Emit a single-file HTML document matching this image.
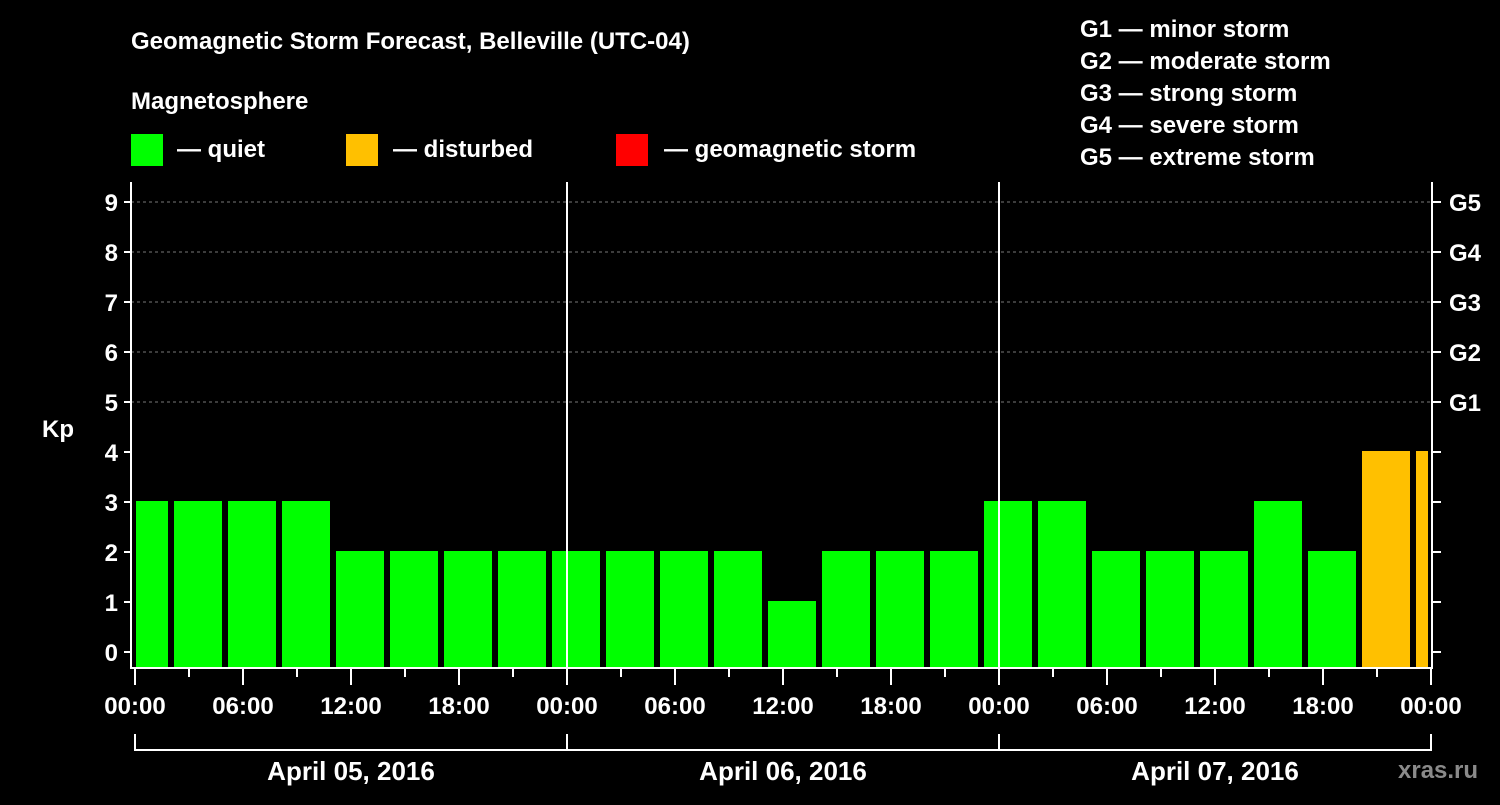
<!DOCTYPE html>
<html><head><meta charset="utf-8"><style>
body{margin:0;background:#000;width:1500px;height:800px;overflow:hidden;font-family:"Liberation Sans",Arial,sans-serif;}
svg text{font-family:"Liberation Sans",Arial,sans-serif;font-weight:bold;fill:#fff;}
</style></head><body>
<svg id="c" width="1500" height="800">
<text x="131" y="49" font-size="24">Geomagnetic Storm Forecast, Belleville (UTC-04)</text>
<text x="131" y="109" font-size="24">Magnetosphere</text>
<g><rect x="131" y="134" width="32" height="32" fill="#00ff00"/><text x="177" y="157" font-size="24">— quiet</text></g>
<g><rect x="346" y="134" width="32" height="32" fill="#ffc000"/><text x="393" y="157" font-size="24">— disturbed</text></g>
<g><rect x="616" y="134" width="32" height="32" fill="#ff0000"/><text x="664" y="157" font-size="24">— geomagnetic storm</text></g>
<g font-size="24">
<text x="1080" y="37">G1 — minor storm</text>
<text x="1080" y="69">G2 — moderate storm</text>
<text x="1080" y="101">G3 — strong storm</text>
<text x="1080" y="133">G4 — severe storm</text>
<text x="1080" y="165">G5 — extreme storm</text>
</g>
<text x="42" y="437" font-size="24">Kp</text>
<text x="1398" y="778" font-size="24" fill="#888" style="fill:#8a8a8a">xras.ru</text>
<g id="plot"></g>
</svg>
<script>
const kpValues=[3,3,3,3,2,2,2,2,2,2,2,2,1,2,2,2,3,3,2,2,2,3,2,4,4];
const kpTicks=[0,1,2,3,4,5,6,7,8,9];
const gLabels=["G1","G2","G3","G4","G5"];
const timeLabels=["00:00","06:00","12:00","18:00","00:00","06:00","12:00","18:00","00:00","06:00","12:00","18:00","00:00"];
const dateLabels=["April 05, 2016","April 06, 2016","April 07, 2016"];
const NS="http://www.w3.org/2000/svg";
const g=document.getElementById('plot');
const X0=135,PX_H=18,L=131,R=1432,TOP=182,BOT=668;
const y=v=>652-50*v;
const x=h=>X0+PX_H*h;
function mk(t,a){const e=document.createElementNS(NS,t);for(const k in a)e.setAttribute(k,a[k]);g.appendChild(e);return e;}
// grid
for(let v=5;v<=9;v++){const e=mk('line',{x1:L,x2:R,y1:y(v),y2:y(v),stroke:'#777','stroke-dasharray':'3,3','stroke-width':1});

}
// bars
kpValues.forEach((v,k)=>{
 let l=x(3*k)-15,r=l+48;l=Math.max(l,136);r=Math.min(r,1428);
 const col=v>=5?'#ff0000':(v>=4?'#ffc000':'#00ff00');
 const e=mk('rect',{x:l,y:y(v)-1,width:r-l,height:BOT-1-(y(v)-1),fill:col});
 
 
});
// day separators
[1,2].forEach(d=>{const e=mk('line',{x1:x(24*d),x2:x(24*d),y1:TOP,y2:BOT,stroke:'#fff','stroke-width':2});

});
// axes
mk('line',{x1:L,x2:L,y1:TOP,y2:BOT+1,stroke:'#fff','stroke-width':2});
mk('line',{x1:R,x2:R,y1:TOP,y2:BOT+1,stroke:'#fff','stroke-width':2});
mk('line',{x1:L,x2:R+1,y1:BOT,y2:BOT,stroke:'#fff','stroke-width':2});
kpTicks.forEach(v=>{
 mk('line',{x1:L-7,x2:L,y1:y(v),y2:y(v),stroke:'#fff','stroke-width':2});
 mk('line',{x1:R,x2:R+9,y1:y(v),y2:y(v),stroke:'#fff','stroke-width':2});
 const t=mk('text',{x:L-13,y:y(v)+9,'font-size':24,'text-anchor':'end'});t.textContent=v;
 
 
});
gLabels.forEach((s,i)=>{const t=mk('text',{x:1449,y:y(5+i)+9,'font-size':24});t.textContent=s;
 
 });
for(let h=0;h<=72;h+=3){const major=h%6===0;mk('line',{x1:x(h),x2:x(h),y1:BOT,y2:BOT+(major?17:9),stroke:'#fff','stroke-width':2});}
timeLabels.forEach((s,i)=>{const t=mk('text',{x:x(6*i),y:714,'font-size':24,'text-anchor':'middle'});t.textContent=s;
 
 });
mk('line',{x1:x(0),x2:x(72),y1:750,y2:750,stroke:'#fff','stroke-width':2});
for(let d=0;d<=3;d++)mk('line',{x1:x(24*d),x2:x(24*d),y1:734,y2:751,stroke:'#fff','stroke-width':2});
dateLabels.forEach((s,i)=>{const t=mk('text',{x:x(24*i+12),y:780,'font-size':26,'text-anchor':'middle'});t.textContent=s;
 
 });
</script>
</body></html>
